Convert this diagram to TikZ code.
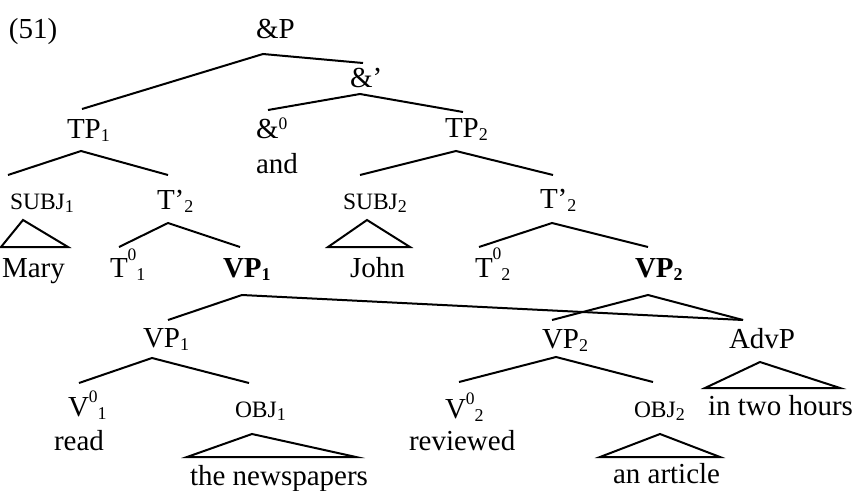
\documentclass[tikz,border=0pt]{standalone}
\usepackage{fontspec}
\setmainfont{Liberation Serif}
\usetikzlibrary{calc}
\newcommand\dn[1]{\raisebox{-3.5pt}{\fontsize{18}{18}\selectfont #1}}
\newcommand\upr[2]{\raisebox{#1pt}{\fontsize{17.5}{18}\selectfont #2}}
\newcommand\smc[1]{{\fontsize{23.5}{24}\selectfont #1}}
\begin{document}
\begin{tikzpicture}[x=1pt,y=-1pt,
  lab/.style={inner sep=0pt, outer sep=0pt, anchor=base west, font=\fontsize{29}{34}\selectfont},
  br/.style={line width=2pt}]
\useasboundingbox (0,0) rectangle (858,490);
% labels
\node[lab] (n51) at (9,38) {(51)};
\node[lab] (aP) at (256,38) {\&P};
\node[lab] (aBar) at (350,87) {\&’};
\node[lab] (TPa) at (67,138) {TP\dn{1}};
\node[lab] (amp0) at (256,138) {\&\upr{9}{0}};
\node[lab] (and) at (256,173) {and};
\node[lab] (TPb) at (445,137) {TP\dn{2}};
\node[lab] (SUBJa) at (10,209) {\smc{SUBJ}\dn{1}};
\node[lab] (Tba) at (157,209) {T’\dn{2}};
\node[lab] (SUBJb) at (343,209) {\smc{SUBJ}\dn{2}};
\node[lab] (Tbb) at (540,208) {T’\dn{2}};
\node[lab] (Mary) at (2,277) {Mary};
\node[lab] (T0a) at (110,277) {T\upr{17}{0}\dn{1}};
\node[lab] (VPa) at (223,277) {\textbf{VP\dn{1}}};
\node[lab] (John) at (350,277) {John};
\node[lab] (T0b) at (475,277) {T\upr{18}{0}\dn{2}};
\node[lab] (VPb) at (635,277) {\textbf{VP\dn{2}}};
\node[lab] (VPc) at (143,347) {VP\dn{1}};
\node[lab] (VPd) at (542,348) {VP\dn{2}};
\node[lab] (AdvP) at (729,348) {AdvP};
\node[lab] (V0a) at (68,416) {V\upr{14}{0}\dn{1}};
\node[lab] (OBJa) at (235,417) {\smc{OBJ}\dn{1}};
\node[lab] (V0b) at (445,418) {V\upr{14}{0}\dn{2}};
\node[lab] (OBJb) at (634,417) {\smc{OBJ}\dn{2}};
\node[lab] (hours) at (708,415) {in two hours};
\node[lab] (read) at (54,450) {read};
\node[lab] (reviewed) at (409,450) {reviewed};
\node[lab] (news) at (190,485) {the newspapers};
\node[lab] (article) at (613,483) {an article};
% branches
\draw[br] ($(TPa.base west)+(15,-29)$) -- ($(aP.base west)+(7,16)$) -- ($(aBar.base west)+(13,-24)$);
\draw[br] ($(amp0.base west)+(12,-28)$) -- ($(aBar.base west)+(10,7)$) -- ($(TPb.base west)+(18,-25)$);
\draw[br] ($(SUBJa.base west)+(-2,-34)$) -- ($(TPa.base west)+(14,13)$) -- ($(Tba.base west)+(11,-34)$);
\draw[br] ($(SUBJb.base west)+(17,-34)$) -- ($(TPb.base west)+(11,14)$) -- ($(Tbb.base west)+(13,-33)$);
\draw[br] ($(T0a.base west)+(9,-30)$) -- ($(Tba.base west)+(11,14)$) -- ($(VPa.base west)+(17,-30)$);
\draw[br] ($(T0b.base west)+(4,-30)$) -- ($(Tbb.base west)+(12,15)$) -- ($(VPb.base west)+(13,-30)$);
\draw[br] ($(VPc.base west)+(25,-27)$) -- ($(VPa.base west)+(19,18)$) -- ($(AdvP.base west)+(14,-28)$);
\draw[br] ($(VPd.base west)+(10,-28)$) -- ($(VPb.base west)+(13,18)$) -- ($(AdvP.base west)+(14,-28)$);
\draw[br] ($(V0a.base west)+(11,-33)$) -- ($(VPc.base west)+(9,11)$) -- ($(OBJa.base west)+(14,-34)$);
\draw[br] ($(V0b.base west)+(14,-36)$) -- ($(VPd.base west)+(14,9)$) -- ($(OBJb.base west)+(19,-35)$);
% triangles
\draw[br] ($(SUBJa.base west)+(13,11)$) -- ($(Mary.base west)+(-1,-30)$) -- ($(Mary.base west)+(66,-30)$) -- cycle;
\draw[br] ($(SUBJb.base west)+(24,11)$) -- ($(John.base west)+(-22,-30)$) -- ($(John.base west)+(60,-30)$) -- cycle;
\draw[br] ($(AdvP.base west)+(31,14)$) -- ($(hours.base west)+(-3,-27)$) -- ($(hours.base west)+(132,-27)$) -- cycle;
\draw[br] ($(OBJa.base west)+(17,17)$) -- ($(news.base west)+(-3,-28)$) -- ($(news.base west)+(166,-28)$) -- cycle;
\draw[br] ($(OBJb.base west)+(26,17)$) -- ($(article.base west)+(-13,-26)$) -- ($(article.base west)+(107,-26)$) -- cycle;
\end{tikzpicture}
\end{document}
